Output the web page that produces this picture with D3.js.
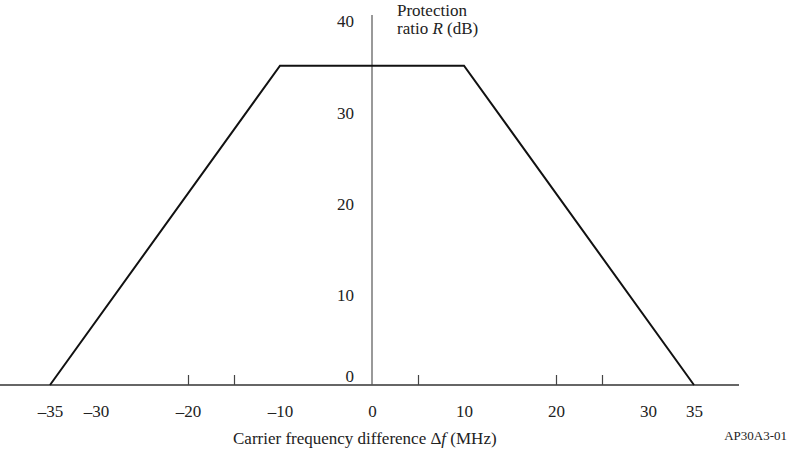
<!DOCTYPE html>
<html>
<head>
<meta charset="utf-8">
<script src="https://cdn.jsdelivr.net/npm/d3@7"></script>
<style>
  body { margin: 0; background: #fff; }
  svg { display: block; }
  text { font-family: "Liberation Serif", "DejaVu Serif", serif; fill: #222; }
</style>
</head>
<body>
<div id="chart"></div>
<script>
// protection ratio mask (dB) vs carrier frequency difference (MHz)
const freq = [-35, -10, 10, 35];
const ratio = [0, 35, 35, 0];
const xTickLabels = [-35, -30, -20, -10, 0, 10, 20, 30, 35];
const xTickMarks = [-20, -15, 5, 20, 25];
const yTickLabels = [0, 10, 20, 30, 40];

const width = 788;
const height = 451;

const svg = d3.select("#chart")
  .append("svg")
    .attr("width", width)
    .attr("height", height);

const x = d3.scaleLinear().domain([-35, 35]).range([50, 694]);
const y = d3.scaleLinear().domain([0, 40]).range([385, 20]);

const fmt = d => d < 0 ? "\u2013" + Math.abs(d) : String(d);

// x axis line
svg.append("line")
  .attr("x1", 0).attr("x2", 739)
  .attr("y1", y(0)).attr("y2", y(0))
  .attr("stroke", "#333").attr("stroke-width", 1.4);

// y axis line
svg.append("line")
  .attr("x1", x(0)).attr("x2", x(0))
  .attr("y1", 15).attr("y2", y(0))
  .attr("stroke", "#555").attr("stroke-width", 1.2);

// small upward tick marks on the x axis
const tickG = svg.append("g")
  .attr("transform", `translate(0,${y(0)})`)
  .call(d3.axisBottom(x).tickValues(xTickMarks).tickSize(-10).tickFormat(""));
tickG.select(".domain").remove();
tickG.selectAll("line").attr("stroke", "#444").attr("stroke-width", 1.2);

// x tick labels
const xLab = svg.append("g")
  .attr("transform", `translate(0,${y(0)})`)
  .call(d3.axisBottom(x).tickValues(xTickLabels).tickSize(0).tickPadding(20).tickFormat(fmt));
xLab.select(".domain").remove();
xLab.selectAll("text")
  .attr("font-family", "Liberation Serif")
  .attr("font-size", 17)
  .attr("fill", "#222");

// y tick labels
const yLab = svg.append("g")
  .attr("transform", `translate(${x(0)},0)`)
  .call(d3.axisLeft(y).tickValues(yTickLabels).tickSize(0).tickPadding(18));
yLab.select(".domain").remove();
yLab.selectAll("text")
  .attr("font-family", "Liberation Serif")
  .attr("font-size", 17)
  .attr("fill", "#222")
  .attr("dy", d => d === 0 ? "-0.2em" : "0.4em");

// the mask
const line = d3.line()
  .x((d, i) => x(freq[i]))
  .y(d => y(d));

svg.append("path")
  .datum(ratio)
  .attr("d", line)
  .attr("fill", "none")
  .attr("stroke", "#111")
  .attr("stroke-width", 2)
  .attr("stroke-linejoin", "miter");

// axis titles
const yt = svg.append("text")
  .attr("x", 397).attr("y", 16)
  .attr("font-size", 17);
yt.append("tspan").text("Protection");
const yt2 = svg.append("text")
  .attr("x", 397).attr("y", 34)
  .attr("font-size", 17);
yt2.append("tspan").text("ratio ");
yt2.append("tspan").attr("font-style", "italic").text("R");
yt2.append("tspan").text(" (dB)");

const xt = svg.append("text")
  .attr("x", 233).attr("y", 444)
  .attr("font-size", 17);
xt.append("tspan").text("Carrier frequency difference \u0394");
xt.append("tspan").attr("font-style", "italic").text("f");
xt.append("tspan").text(" (MHz)");

svg.append("text")
  .attr("x", 787).attr("y", 440)
  .attr("text-anchor", "end")
  .attr("font-size", 13)
  .text("AP30A3-01");
</script>
</body>
</html>
